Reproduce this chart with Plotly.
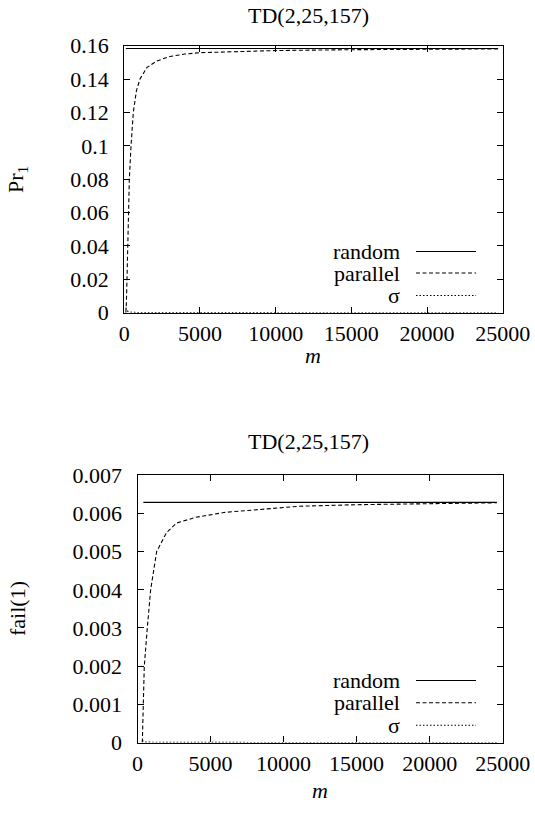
import plotly.graph_objects as go

W, H = 535, 813

# ---------------- data ----------------
title_text = "TD(2,25,157)"
x_ticks = [0, 5000, 10000, 15000, 20000, 25000]

# top panel (Pr_1)
top_random_m = [100, 5000, 10000, 15000, 20000, 24700]
top_random_v = [0.1583, 0.1583, 0.1583, 0.1583, 0.1583, 0.1583]
top_parallel_m = [100, 130, 178, 222, 265, 333, 443, 595, 800, 1037, 1500, 2140, 3000,
                  4000, 5000, 7500, 10000, 15000, 20000, 24700]
top_parallel_v = [0.0, 0.004, 0.02, 0.04, 0.06, 0.08, 0.10, 0.12, 0.133, 0.14, 0.147,
                  0.1508, 0.1535, 0.1550, 0.1558, 0.1566, 0.1571, 0.1576, 0.1579, 0.1581]
top_sigma_m = [100, 150, 250, 500, 1000, 2000, 5000, 10000, 24700]
top_sigma_v = [0.003, 0.0015, 0.0007, 0.0003, 0.0001, 0.00005, 0.00002, 0.00001, 0.000005]
top_yticks = [0, 0.02, 0.04, 0.06, 0.08, 0.1, 0.12, 0.14, 0.16]

# bottom panel (fail(1))
bot_random_m = [400, 5000, 10000, 15000, 20000, 24600]
bot_random_v = [0.00629, 0.00629, 0.00629, 0.00629, 0.00629, 0.00629]
bot_parallel_m = [330, 400, 465, 670, 900, 1310, 1990, 2680, 4000, 6000, 8000, 11100,
                  15000, 20000, 24600]
bot_parallel_v = [0.0, 0.001, 0.002, 0.003, 0.004, 0.005, 0.0055, 0.00575, 0.0059,
                  0.00603, 0.0061, 0.00619, 0.00623, 0.00626, 0.00628]
bot_sigma_m = [330, 400, 600, 1000, 2000, 5000, 24600]
bot_sigma_v = [0.00006, 0.00003, 0.00001, 0.000005, 0.000003, 0.000002, 0.000001]
bot_yticks = [0, 0.001, 0.002, 0.003, 0.004, 0.005, 0.006, 0.007]

legend_names = ["random", "parallel", "\u03c3"]
dashes = ["solid", "4px,2.5px", "1.5px,2px"]

# ---------------- layout helpers (pixels -> paper fraction) ----------------
def px_x(x):
    return x / W

def px_y(y):
    return 1 - y / H

FONT = "'Liberation Serif', 'Times New Roman', Times, 'DejaVu Serif', serif"
FS = 22

fig = go.Figure()

def add_series(m, v, dash, xa, ya, name):
    fig.add_trace(go.Scatter(x=m, y=v, mode="lines", name=name, showlegend=False,
                             line=dict(color="black", width=1.1, dash=dash),
                             xaxis=xa, yaxis=ya))

add_series(top_random_m, top_random_v, dashes[0], "x", "y", legend_names[0])
add_series(top_parallel_m, top_parallel_v, dashes[1], "x", "y", legend_names[1])
add_series(top_sigma_m, top_sigma_v, dashes[2], "x", "y", legend_names[2])
add_series(bot_random_m, bot_random_v, dashes[0], "x2", "y2", legend_names[0])
add_series(bot_parallel_m, bot_parallel_v, dashes[1], "x2", "y2", legend_names[1])
add_series(bot_sigma_m, bot_sigma_v, dashes[2], "x2", "y2", legend_names[2])

axis_common = dict(showline=True, linecolor="black", linewidth=1.3, mirror="allticks",
                   ticks="inside", ticklen=6, tickwidth=1, tickcolor="black",
                   showgrid=False, zeroline=False, automargin=False,
                   tickfont=dict(family=FONT, size=FS, color="black"))

# pixel geometry of the two panels
top_l, top_r, top_t, top_b = 124.3, 502.7, 45.7, 312.7
bot_l, bot_r, bot_t, bot_b = 137.5, 502.7, 475.3, 742.5

fig.update_layout(
    template="none",
    width=W, height=H, margin=dict(l=0, r=0, t=0, b=0, autoexpand=False),
    paper_bgcolor="white", plot_bgcolor="white", showlegend=False,
    font=dict(family=FONT, size=FS, color="black"),
    xaxis=dict(domain=[px_x(top_l), px_x(top_r)], range=[0, 25000], tickvals=x_ticks,
               tickformat="d", anchor="y", ticklabelstandoff=1, **axis_common),
    yaxis=dict(domain=[px_y(top_b), px_y(top_t)], range=[0, 0.16], tickvals=top_yticks,
               anchor="x", ticklabelstandoff=10, **axis_common),
    xaxis2=dict(domain=[px_x(bot_l), px_x(bot_r)], range=[0, 25000], tickvals=x_ticks,
                tickformat="d", anchor="y2", ticklabelstandoff=1, **axis_common),
    yaxis2=dict(domain=[px_y(bot_b), px_y(bot_t)], range=[0, 0.007], tickvals=bot_yticks,
                anchor="x2", ticklabelstandoff=10, **axis_common),
)

ann = []
def text(x, y, s, **kw):
    d = dict(x=px_x(x), y=px_y(y), xref="paper", yref="paper", text=s, showarrow=False,
             font=dict(family=FONT, size=FS, color="black"), xanchor="center",
             yanchor="middle")
    d.update(kw)
    ann.append(d)

# titles
text(308, 16, title_text)
text(308, 442, title_text)
# axis labels
text(17, 180, "Pr<sub>1</sub>", textangle=-90)
text(17, 609, "fail(1)", textangle=-90)
text(313, 355, "<i>m</i>")
text(320, 790, "<i>m</i>")

# legends (gnuplot style: text right-aligned, sample on right)
shapes = []
for ys in ([251.5, 273, 295.5], [680.5, 702.7, 725.3]):
    for name, dash, y in zip(legend_names, dashes, ys):
        text(402, y, name, xanchor="right")
        shapes.append(dict(type="line", xref="paper", yref="paper",
                           x0=px_x(416), x1=px_x(476), y0=px_y(y), y1=px_y(y),
                           line=dict(color="black", width=1.1, dash=dash)))

fig.update_layout(annotations=ann, shapes=shapes)
# remove the default 8px page margin so the 535x813 figure fills the window exactly
fig.write_html("out.html", config={"displayModeBar": False},
               post_script="document.body.style.margin='0';")
